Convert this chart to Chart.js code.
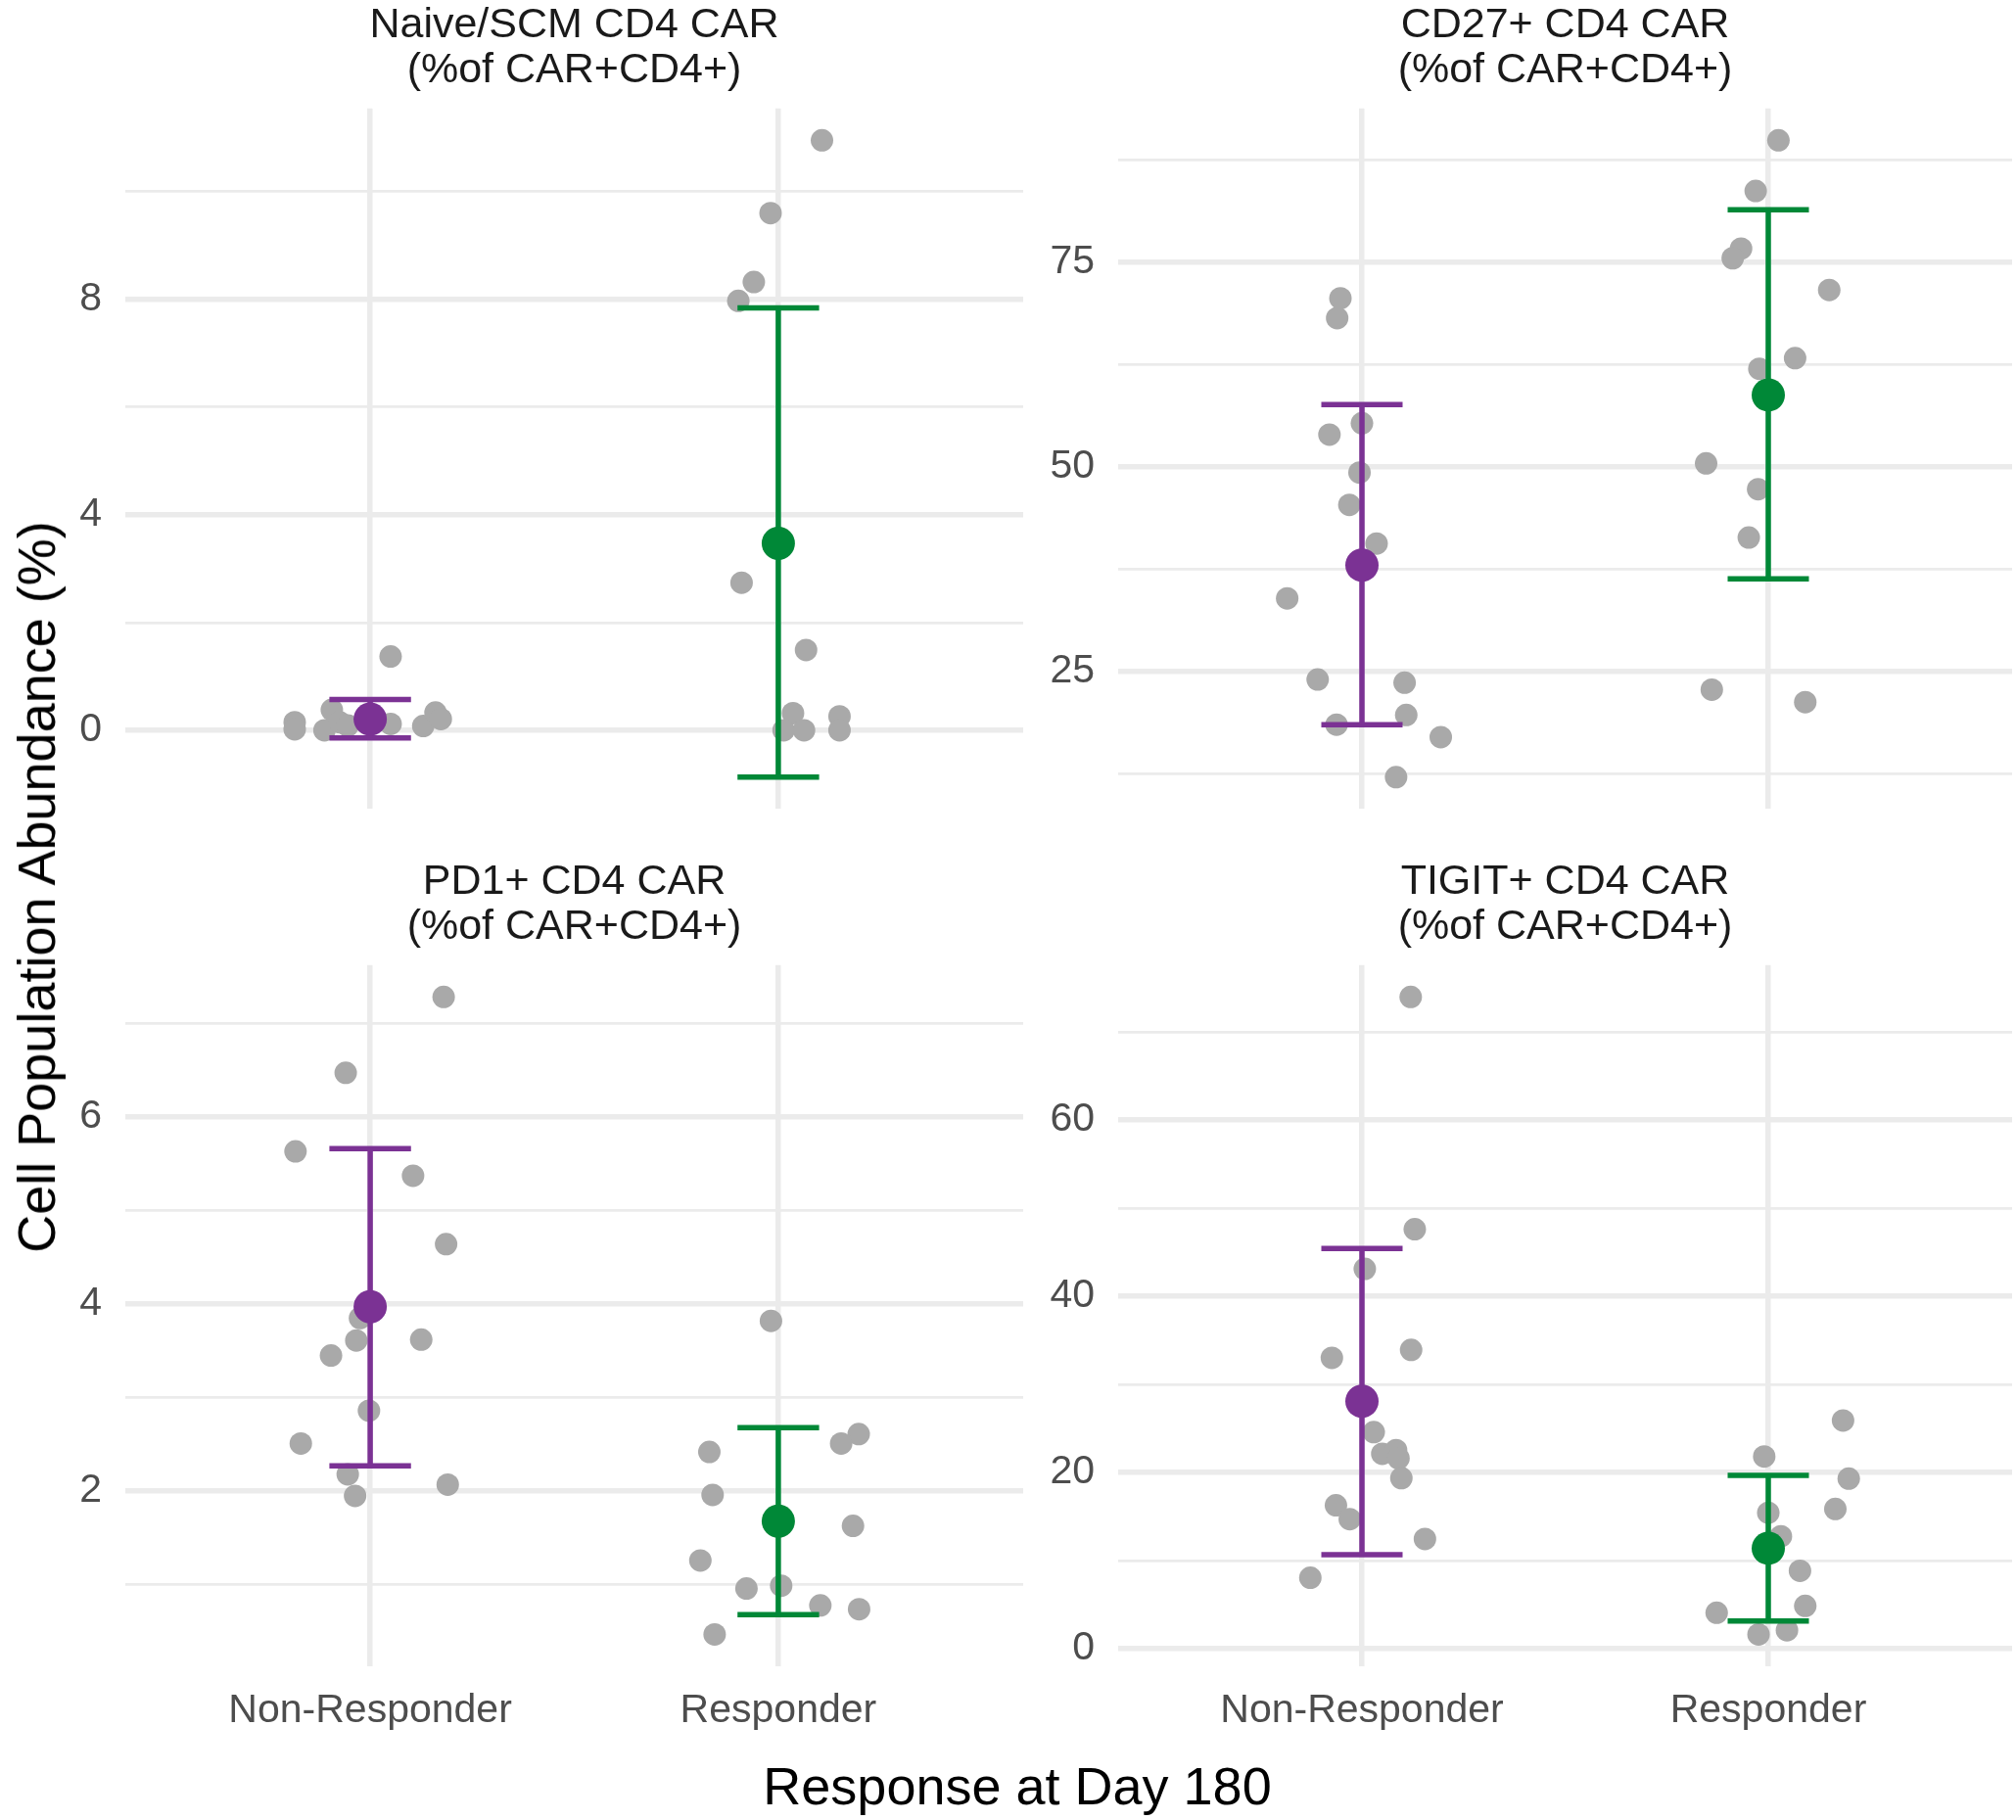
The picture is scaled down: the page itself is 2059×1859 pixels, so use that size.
<!DOCTYPE html>
<html>
<head>
<meta charset="utf-8">
<title>CAR CD4 populations by response</title>
<script src="https://cdn.jsdelivr.net/npm/chart.js@4.4.1/dist/chart.umd.min.js"></script>
<style>
  html, body { margin: 0; padding: 0; background: #fff; }
  #wrap { position: relative; width: 2059px; height: 1859px; font-family: "Liberation Sans", Arial, sans-serif; }
  canvas { position: absolute; }
  .axis-title { position: absolute; color: #000; font-size: 54px; line-height: 54px; white-space: nowrap; }
  #xtitle { left: 1039px; top: 1797px; transform: translateX(-50%); }
  #ytitle { left: 37px; top: 906px; transform: translate(-50%, -50%) rotate(-90deg); }
</style>
</head>
<body>
<div id="wrap">
  <canvas id="naive" width="1060" height="875" style="left:0;top:0"></canvas>
  <canvas id="cd27" width="999" height="875" style="left:1060px;top:0"></canvas>
  <canvas id="pd1" width="1060" height="984" style="left:0;top:875px"></canvas>
  <canvas id="tigit" width="999" height="984" style="left:1060px;top:875px"></canvas>
  <div class="axis-title" id="xtitle">Response at Day 180</div>
  <div class="axis-title" id="ytitle">Cell Population Abundance (%)</div>
</div>
<script>
const groups = ["Non-Responder", "Responder"];

// Naive/SCM CD4 CAR
const naiveNR = [0.15, 0.02, 0.0, 0.38, 0.15, 0.09, 1.37, 0.12, 0.08, 0.33, 0.21];
const naiveNRJitter = [-0.185, -0.185, -0.112, -0.094, -0.075, -0.055, 0.05, 0.05, 0.13, 0.16, 0.173];
const naiveR = [10.95, 9.60, 8.32, 7.97, 2.74, 1.49, 0.32, 0.0, 0.0, 0.26, 0.0];
const naiveRJitter = [0.107, -0.019, -0.06, -0.098, -0.09, 0.068, 0.036, 0.013, 0.063, 0.15, 0.15];
const naiveMean = [0.21, 3.47];
const naiveLow = [-0.14, -0.87];
const naiveHigh = [0.57, 7.84];
const naiveMajor = [0, 4, 8];
const naiveMinor = [2, 6, 10];

// CD27+ CD4 CAR
const cd27NR = [70.56, 68.14, 55.3, 53.9, 49.27, 45.33, 40.6, 33.9, 23.99, 23.6, 19.66, 18.48, 16.96, 12.06];
const cd27NRJitter = [-0.053, -0.061, 0.0, -0.08, -0.006, -0.031, 0.036, -0.184, -0.109, 0.105, 0.109, -0.0625, 0.194, 0.084];
const cd27R = [89.85, 83.66, 76.63, 75.45, 71.57, 63.25, 61.95, 50.39, 47.24, 41.34, 22.75, 21.23];
const cd27RJitter = [0.025, -0.031, -0.067, -0.0875, 0.15, 0.066, -0.022, -0.153, -0.025, -0.048, -0.139, 0.091];
const cd27Mean = [37.96, 58.75];
const cd27Low = [18.48, 36.3];
const cd27High = [57.56, 81.36];
const cd27Major = [25, 50, 75];
const cd27Minor = [12.5, 37.5, 62.5, 87.5];

// PD1+ CD4 CAR
const pd1NR = [7.28, 6.47, 5.63, 5.37, 4.64, 3.85, 3.61, 3.62, 3.45, 2.86, 2.51, 2.18, 1.95, 2.07];
const pd1NRJitter = [0.18, -0.06, -0.183, 0.105, 0.186, -0.025, -0.034, 0.125, -0.096, -0.003, -0.17, -0.055, -0.037, 0.19];
const pd1R = [3.82, 2.61, 2.51, 2.42, 1.96, 1.63, 1.26, 0.96, 0.99, 0.78, 0.74, 0.47];
const pd1RJitter = [-0.018, 0.197, 0.154, -0.169, -0.161, 0.183, -0.191, -0.078, 0.007, 0.103, 0.198, -0.156];
const pd1Mean = [3.97, 1.68];
const pd1Low = [2.27, 0.68];
const pd1High = [5.66, 2.68];
const pd1Major = [2, 4, 6];
const pd1Minor = [1, 3, 5, 7];

// TIGIT+ CD4 CAR
const tigitNR = [73.95, 47.6, 43.1, 33.0, 33.9, 24.58, 22.12, 22.54, 21.6, 19.35, 16.27, 14.7, 12.45, 8.05];
const tigitNRJitter = [0.12, 0.13, 0.007, -0.074, 0.121, 0.029, 0.05, 0.084, 0.09, 0.097, -0.064, -0.03, 0.155, -0.127];
const tigitR = [25.89, 21.81, 19.3, 15.85, 15.43, 12.76, 8.84, 4.86, 4.08, 1.62, 2.09];
const tigitRJitter = [0.184, -0.01, 0.198, 0.165, 0.0, 0.031, 0.078, 0.091, -0.127, -0.024, 0.046];
const tigitMean = [28.09, 11.4];
const tigitLow = [10.67, 3.14];
const tigitHigh = [45.4, 19.67];
const tigitMajor = [0, 20, 40, 60];
const tigitMinor = [10, 30, 50, 70];

const fontFamily = '"Liberation Sans", Arial, sans-serif';
const groupColors = ["#7B3294", "#008837"];
const gridColor = "#EBEBEB";

const makePanel = (canvasId, title, nr, nrJit, r, rJit, mean, low, high, major, minor, opts) => {
    const all = nr.concat(r, low, high);
    const lo = Math.min(...all), hi = Math.max(...all);
    const pad = (hi - lo) * 0.05;
    const tickValues = major.concat(minor).sort((a, b) => a - b);

    const datasets = [];
    // group means on top
    datasets.push({
        data: mean.map((m, i) => ({ x: i + 1, y: m })),
        pointRadius: 17,
        pointBackgroundColor: groupColors,
        pointBorderWidth: 0,
        order: 0
    });
    // error bars: stem plus two caps for each group
    mean.forEach((m, i) => {
        const cx = i + 1;
        const segs = [
            [{ x: cx, y: low[i] }, { x: cx, y: high[i] }],
            [{ x: cx - 0.1, y: high[i] }, { x: cx + 0.1, y: high[i] }],
            [{ x: cx - 0.1, y: low[i] }, { x: cx + 0.1, y: low[i] }]
        ];
        segs.forEach(seg => datasets.push({
            data: seg,
            showLine: true,
            pointRadius: 0,
            borderColor: groupColors[i],
            borderWidth: 5.5,
            order: 1
        }));
    });
    // individual patients
    datasets.push({
        data: nr.map((v, i) => ({ x: 1 + nrJit[i], y: v })).concat(r.map((v, i) => ({ x: 2 + rJit[i], y: v }))),
        pointRadius: 11.5,
        pointBackgroundColor: "#A9A9A9",
        pointBorderWidth: 0,
        order: 2
    });

    return new Chart(document.getElementById(canvasId), {
        type: "scatter",
        data: { datasets },
        options: {
            responsive: false,
            animation: false,
            devicePixelRatio: 1,
            layout: { autoPadding: false, padding: { top: 0, left: 0, right: opts.padRight, bottom: opts.padBottom } },
            plugins: {
                legend: { display: false },
                tooltip: { enabled: false },
                title: {
                    display: true,
                    text: title,
                    fullSize: false,
                    color: "#1A1A1A",
                    font: { family: fontFamily, size: 43, weight: "normal", lineHeight: 1.05 },
                    padding: { top: 4, bottom: 16.5 }
                }
            },
            scales: {
                x: {
                    type: "linear",
                    min: 0.4,
                    max: 2.6,
                    afterBuildTicks: s => { s.ticks = [{ value: 1 }, { value: 2 }]; },
                    afterFit: s => { s.height = opts.showX ? 80 : 0; },
                    border: { display: false },
                    grid: { color: gridColor, lineWidth: 5.5, drawTicks: false },
                    ticks: {
                        display: opts.showX,
                        autoSkip: false,
                        maxRotation: 0,
                        padding: 21,
                        color: "#4D4D4D",
                        font: { family: fontFamily, size: 41 },
                        callback: v => groups[v - 1]
                    }
                },
                y: {
                    type: "linear",
                    min: lo - pad,
                    max: hi + pad,
                    afterBuildTicks: s => { s.ticks = tickValues.map(v => ({ value: v })); },
                    afterFit: s => { s.width = opts.yWidth; },
                    border: { display: false },
                    grid: {
                        color: gridColor,
                        drawTicks: false,
                        lineWidth: ctx => (ctx.tick && major.includes(ctx.tick.value)) ? 5.5 : 2.75
                    },
                    ticks: {
                        autoSkip: false,
                        padding: 24,
                        color: "#4D4D4D",
                        font: { family: fontFamily, size: 41 },
                        callback: v => major.includes(v) ? String(v) : ""
                    }
                }
            }
        }
    });
};

const subtitle = "(%of CAR+CD4+)";

window.onload = () => {
    makePanel("naive", ["Naive/SCM CD4 CAR", subtitle], naiveNR, naiveNRJitter, naiveR, naiveRJitter,
        naiveMean, naiveLow, naiveHigh, naiveMajor, naiveMinor,
        { yWidth: 128, padRight: 15, padBottom: 48, showX: false });
    makePanel("cd27", ["CD27+ CD4 CAR", subtitle], cd27NR, cd27NRJitter, cd27R, cd27RJitter,
        cd27Mean, cd27Low, cd27High, cd27Major, cd27Minor,
        { yWidth: 82, padRight: 4, padBottom: 48, showX: false });
    makePanel("pd1", ["PD1+ CD4 CAR", subtitle], pd1NR, pd1NRJitter, pd1R, pd1RJitter,
        pd1Mean, pd1Low, pd1High, pd1Major, pd1Minor,
        { yWidth: 128, padRight: 15, padBottom: 77, showX: true });
    makePanel("tigit", ["TIGIT+ CD4 CAR", subtitle], tigitNR, tigitNRJitter, tigitR, tigitRJitter,
        tigitMean, tigitLow, tigitHigh, tigitMajor, tigitMinor,
        { yWidth: 82, padRight: 4, padBottom: 77, showX: true });
};
</script>
</body>
</html>
